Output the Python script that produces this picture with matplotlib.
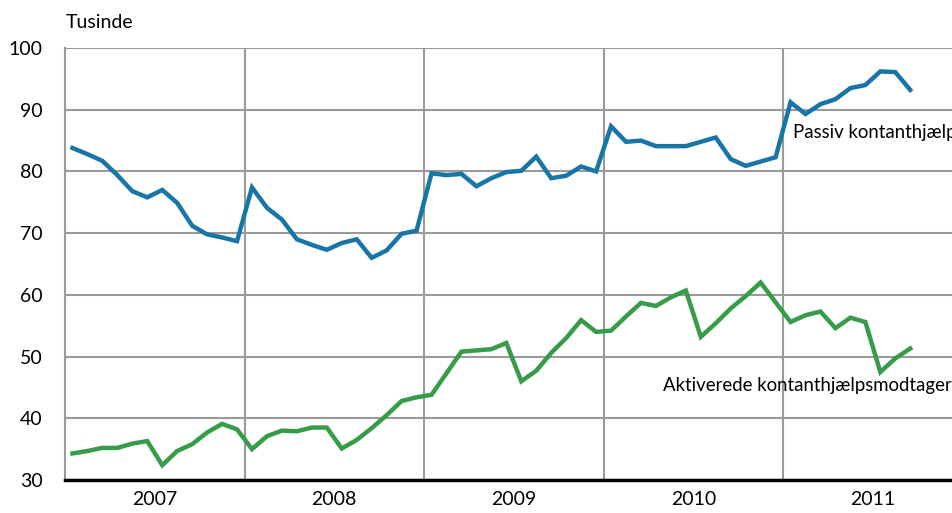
import matplotlib
matplotlib.use("Agg")
import matplotlib.pyplot as plt
import numpy as np

years = ["2007", "2008", "2009", "2010", "2011"]

passiv = [83.8, 82.8, 81.7, 79.4, 76.8, 75.8, 77.0, 74.9, 71.2, 69.8, 69.3, 68.7,
          77.4, 74.1, 72.2, 69.0, 68.1, 67.3, 68.4, 69.0, 66.0, 67.2, 69.9, 70.4,
          79.7, 79.4, 79.6, 77.6, 78.9, 79.9, 80.1, 82.4, 78.9, 79.3, 80.8, 80.0,
          87.3, 84.8, 85.0, 84.1, 84.1, 84.1, 84.8, 85.5, 82.0, 80.9, 81.6, 82.3,
          91.2, 89.3, 90.9, 91.7, 93.5, 94.0, 96.2, 96.1, 93.2]

aktiverede = [34.3, 34.7, 35.2, 35.2, 35.9, 36.3, 32.4, 34.7, 35.8, 37.7, 39.1, 38.2,
              35.0, 37.1, 38.0, 37.9, 38.5, 38.5, 35.1, 36.5, 38.4, 40.5, 42.8, 43.4,
              43.8, 47.3, 50.8, 51.0, 51.2, 52.2, 46.0, 47.7, 50.6, 53.0, 55.9, 54.0,
              54.2, 56.5, 58.7, 58.2, 59.6, 60.7, 53.2, 55.4, 57.8, 59.8, 62.0, 58.8,
              55.6, 56.7, 57.3, 54.6, 56.3, 55.6, 47.5, 49.7, 51.3]

yticks = [30, 40, 50, 60, 70, 80, 90, 100]

font = ["Lato", "DejaVu Sans"]
plt.rcParams["font.family"] = font
FS = 14
FS_LBL = 13.4

fig = plt.figure(figsize=(9.53, 5.13), dpi=100)
ax = fig.add_axes([65/953, 33/513, 888/953, 432/513])

x = np.arange(len(passiv)) + 0.5
ax.plot(x, passiv, color="#1876a6", lw=3.2, solid_joinstyle="miter", zorder=3)
ax.plot(x, aktiverede, color="#369c48", lw=3.2, solid_joinstyle="miter", zorder=3)

ax.set_xlim(0, 888/14.96)
ax.set_ylim(30, 100)
ax.set_yticks(yticks)
ax.set_yticklabels([str(v) for v in yticks], fontsize=FS)
ax.set_xticks([12, 24, 36, 48])
ax.set_xticklabels([])
ax.set_xticks([6 + 12*k for k in range(len(years))], minor=True)
ax.set_xticklabels(years, minor=True, fontsize=FS)
ax.tick_params(axis="both", which="both", length=0)
ax.tick_params(axis="y", pad=16)
ax.tick_params(axis="x", which="minor", pad=8)

ax.grid(True, which="major", color="#9a9a9a", lw=1.5, zorder=1)
for s in ["top", "right"]:
    ax.spines[s].set_visible(False)
ax.spines["left"].set_color("#9a9a9a")
ax.spines["left"].set_linewidth(1.5)
ax.spines["bottom"].set_color("black")
ax.spines["bottom"].set_linewidth(2.5)
ax.spines["bottom"].set_zorder(4)
ax.axhline(100, color="#9a9a9a", lw=1.5, zorder=1)

fig.text(66/953, 1 - 23/513, "Tusinde", fontsize=FS, va="center", ha="left")
ax.text(48.65, 86.3, "Passiv kontanthjælpsmodtagere", fontsize=FS_LBL, va="center", ha="left", clip_on=False)
ax.text(39.95, 45.3, "Aktiverede kontanthjælpsmodtagere", fontsize=FS_LBL, va="center", ha="left", clip_on=False)

fig.savefig("out.png", dpi=100)
